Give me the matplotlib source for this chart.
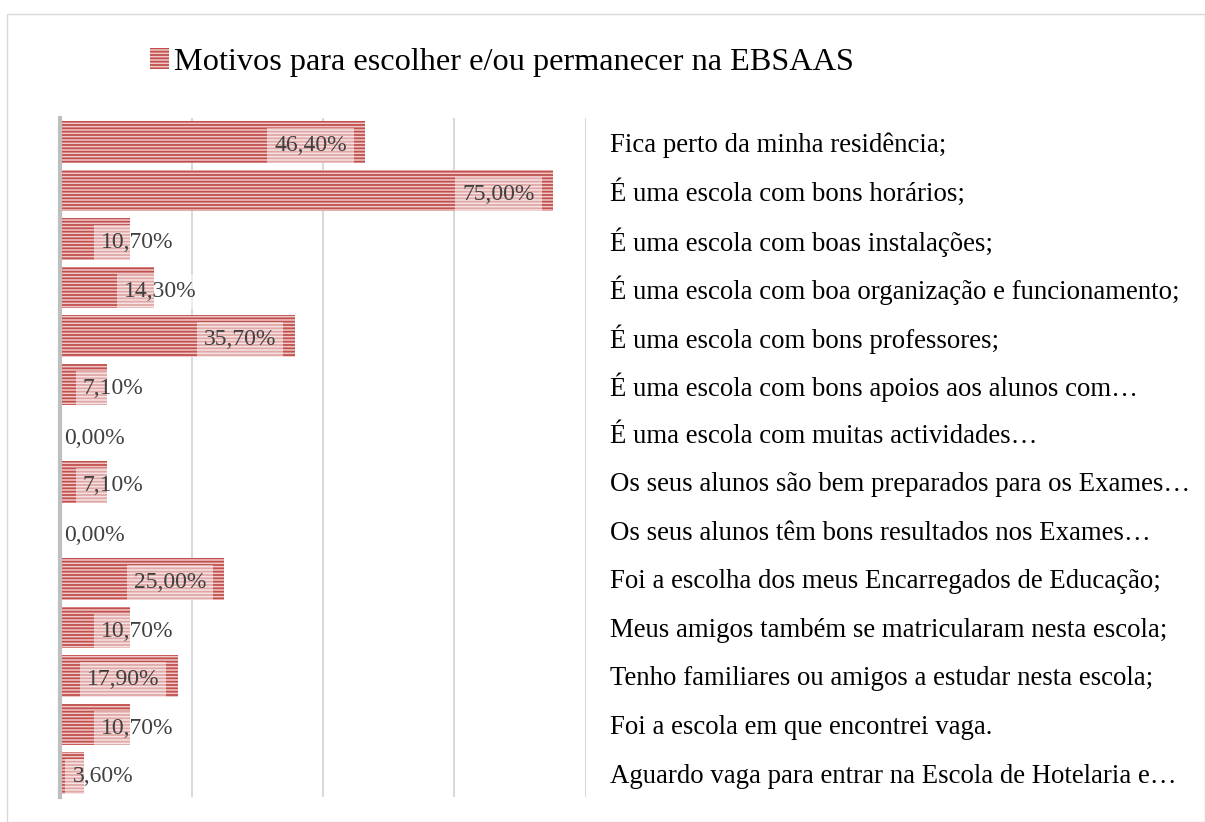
import matplotlib.pyplot as plt
from matplotlib.patches import Rectangle

# data
motivos = [
    "Fica perto da minha residência;",
    "É uma escola com bons horários;",
    "É uma escola com boas instalações;",
    "É uma escola com boa organização e funcionamento;",
    "É uma escola com bons professores;",
    "É uma escola com bons apoios aos alunos com…",
    "É uma escola com muitas actividades…",
    "Os seus alunos são bem preparados para os Exames…",
    "Os seus alunos têm bons resultados nos Exames…",
    "Foi a escolha dos meus Encarregados de Educação;",
    "Meus amigos também se matricularam nesta escola;",
    "Tenho familiares ou amigos a estudar nesta escola;",
    "Foi a escola em que encontrei vaga.",
    "Aguardo vaga para entrar na Escola de Hotelaria e…",
]
percent = [46.4, 75.0, 10.7, 14.3, 35.7, 7.1, 0.0, 7.1, 0.0, 25.0, 10.7, 17.9, 10.7, 3.6]
serie = "Motivos para escolher e/ou permanecer na EBSAAS"

plt.rcParams['font.family'] = ['Liberation Serif', 'DejaVu Serif']
plt.rcParams['hatch.linewidth'] = 1.3
plt.rcParams['hatch.color'] = '#C0504D'

fig = plt.figure(figsize=(12.05, 8.22), dpi=100)
ax = fig.add_axes([0.0498, 0.030, 0.4365, 0.827])

y = list(range(len(motivos)))
bars = ax.barh(y, percent, height=0.86, color='#F0C8C7', edgecolor='#C0504D',
               linewidth=0, hatch='-----', label=serie, zorder=2)

# data labels
for yi, v in zip(y, percent):
    txt = f"{v:.2f}".replace(".", ",") + "%"
    box = dict(boxstyle='square,pad=0.3', facecolor='white', alpha=0.5, edgecolor='none')
    if v == 0:
        ax.text(0.6, yi + 0.1, txt, ha='left', va='center', fontsize=17, color='#404040', zorder=3)
    elif v >= 17:
        ax.text(v - 2.8, yi + 0.08, txt, ha='right', va='center', fontsize=17, color='#404040',
                bbox=box, zorder=3)
    else:
        ax.text(max(v + 1, 6.5), yi + 0.08, txt, ha='center', va='center', fontsize=17,
                color='#404040', bbox=box, zorder=3)

ax.set_xlim(0, 80)
ax.set_ylim(len(motivos) - 0.5, -0.5)
ax.set_xticks([0, 20, 40, 60, 80])
ax.set_xticklabels([])
ax.tick_params(axis='x', length=0)
ax.grid(axis='x', color='#D9D9D9', linewidth=1.5, zorder=0)

ax.set_yticks(y)
ax.set_yticklabels(motivos, fontsize=19.3, color='black')
ax.yaxis.tick_right()
ax.tick_params(axis='y', length=0, pad=17)

for s in ['top', 'right', 'bottom']:
    ax.spines[s].set_visible(False)
ax.spines['left'].set_color('#BFBFBF')
ax.spines['left'].set_linewidth(3)
ax.spines['left'].set_zorder(4)

leg = fig.legend(handles=[bars], labels=[serie], loc='center left',
                 bbox_to_anchor=(0.1, 0.924), frameon=False, fontsize=23.2,
                 handlelength=0.6, handleheight=0.6, handletextpad=0.15)

# outer border
fig.patches.append(Rectangle((0.006, 0.0), 0.994, 0.983, transform=fig.transFigure,
                             fill=False, edgecolor='#D9D9D9', linewidth=1))

fig.savefig("out.png", dpi=100)
